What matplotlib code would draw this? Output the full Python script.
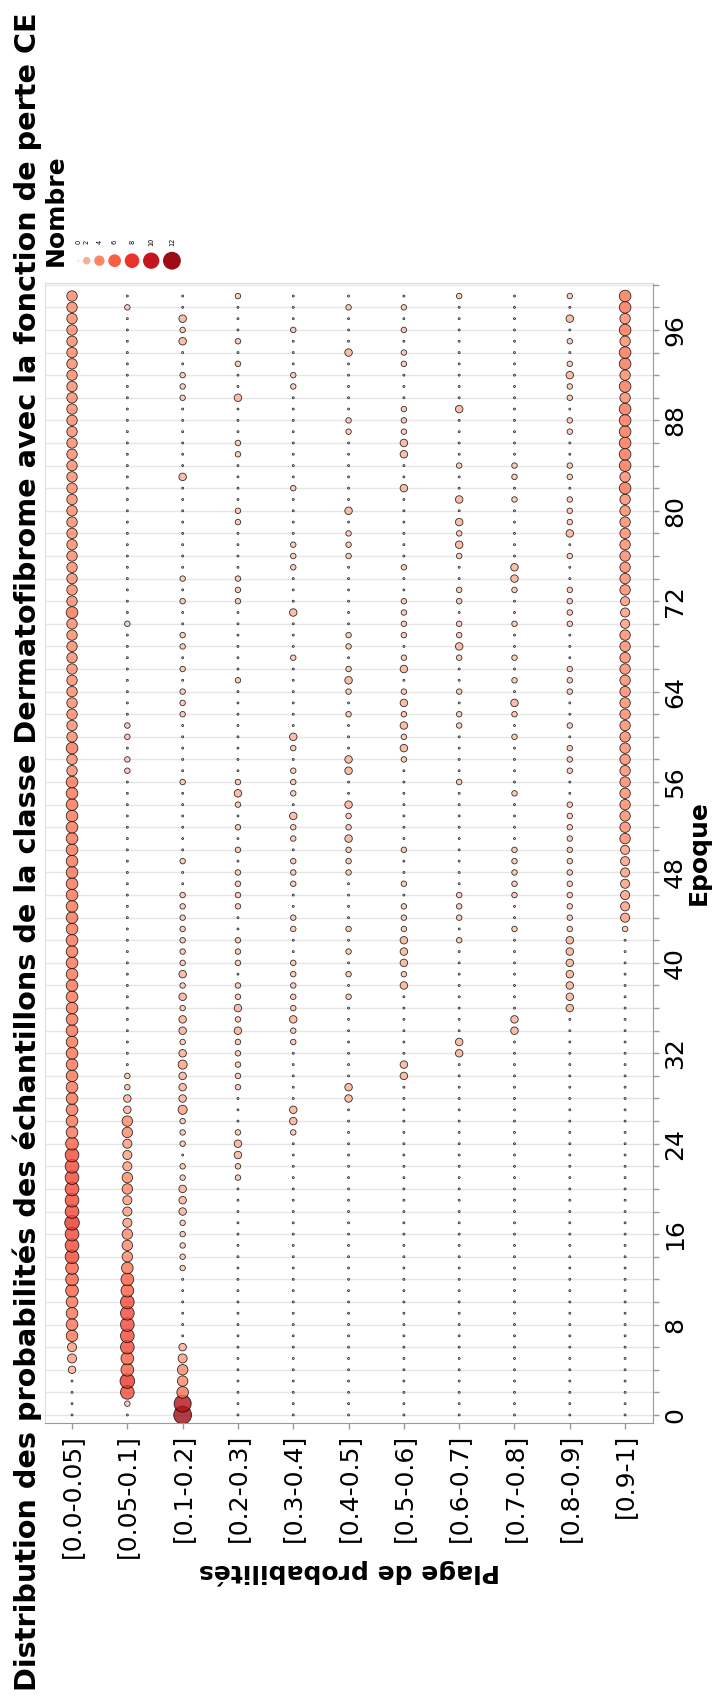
import numpy as np
import pandas as pd
import matplotlib
matplotlib.use("Agg")
import matplotlib.pyplot as plt
from matplotlib.colors import Normalize

# Plages de probabilites (ordre des colonnes)
categories = ["[0.0-0.05]", "[0.05-0.1]", "[0.1-0.2]", "[0.2-0.3]", "[0.3-0.4]",
              "[0.4-0.5]", "[0.5-0.6]", "[0.6-0.7]", "[0.7-0.8]", "[0.8-0.9]", "[0.9-1]"]
epochs = np.arange(100)

# Nombre d'echantillons par epoque (liste complete) ou {epoque: nombre} (zeros omis)
p_00_005 = [0, 0, 0, 0, 2, 3, 3, 5, 5, 5,
            5, 6, 6, 6, 7, 7, 7, 8, 7, 7,
            7, 7, 7, 7, 6, 5, 5, 5, 5, 5,
            5, 5, 5, 5, 5, 5, 5, 5, 5, 5,
            5, 5, 5, 5, 5, 5, 5, 5, 5, 5,
            5, 5, 5, 5, 5, 5, 5, 4, 4, 5,
            4, 4, 4, 4, 4, 4, 4, 4, 4, 4,
            4, 5, 4, 4, 4, 4, 4, 4, 4, 4,
            4, 4, 4, 4, 4, 4, 4, 4, 4, 4,
            4, 4, 4, 4, 4, 4, 4, 4, 4, 4]
p_005_01 = {1: 1, 2: 7, 3: 8, 4: 6, 5: 6, 6: 7, 7: 7, 8: 7, 9: 7, 10: 7, 11: 6, 12: 6,
            13: 5, 14: 4, 15: 4, 16: 4, 17: 3, 18: 3, 19: 3, 20: 4, 21: 4, 22: 3, 23: 3,
            24: 3, 25: 4, 26: 4, 27: 2, 28: 2, 29: 1, 30: 1, 57: 1, 58: 1, 60: 1, 61: 1,
            70: 1, 98: 1}
p_01_02 = {0: 12, 1: 11, 2: 5, 3: 4, 4: 4, 5: 3, 6: 2, 13: 1, 14: 1, 15: 1, 16: 1, 17: 1,
           18: 2, 19: 2, 20: 2, 21: 1, 22: 1, 24: 1, 25: 1, 26: 1, 27: 3, 28: 2, 29: 2,
           30: 2, 31: 3, 32: 2, 33: 1, 34: 2, 35: 2, 36: 1, 37: 2, 38: 1, 39: 2, 40: 1,
           41: 1, 42: 1, 43: 1, 44: 1, 45: 1, 46: 1, 49: 1, 56: 1, 62: 1, 63: 1, 64: 1,
           66: 1, 68: 1, 69: 1, 72: 1, 74: 1, 83: 2, 90: 1, 91: 1, 92: 1, 95: 2, 96: 1, 97: 2}
p_02_03 = {21: 1, 22: 1, 23: 2, 24: 2, 25: 1, 29: 1, 30: 1, 31: 1, 32: 1, 33: 1, 34: 2,
           35: 1, 36: 2, 37: 1, 38: 1, 40: 1, 41: 1, 42: 1, 45: 1, 46: 1, 47: 1, 48: 1,
           50: 1, 52: 1, 54: 1, 55: 2, 56: 1, 65: 1, 72: 1, 73: 1, 74: 1, 79: 1, 80: 1,
           85: 1, 86: 1, 90: 2, 93: 1, 95: 1, 99: 1}
p_03_04 = {25: 1, 26: 2, 27: 2, 33: 1, 34: 1, 35: 2, 36: 1, 37: 1, 38: 1, 39: 1, 40: 1,
           43: 1, 44: 1, 47: 1, 48: 1, 49: 1, 51: 1, 52: 1, 53: 2, 55: 1, 56: 1, 57: 1,
           59: 1, 60: 2, 67: 1, 71: 2, 75: 1, 76: 1, 77: 1, 82: 1, 91: 1, 92: 1, 96: 1}
p_04_05 = {28: 2, 29: 2, 37: 1, 39: 1, 41: 1, 43: 1, 48: 1, 49: 1, 50: 1, 51: 2, 52: 1,
           53: 1, 54: 2, 57: 2, 58: 2, 62: 1, 64: 1, 65: 2, 66: 1, 68: 1, 69: 1, 76: 1,
           77: 1, 78: 1, 80: 2, 87: 1, 88: 1, 94: 2, 98: 1}
p_05_06 = {30: 2, 31: 2, 38: 2, 39: 1, 40: 2, 41: 2, 42: 2, 43: 1, 44: 1, 45: 1, 47: 1,
           50: 1, 58: 1, 59: 2, 60: 1, 61: 2, 62: 1, 63: 2, 64: 1, 66: 2, 67: 1, 69: 1,
           70: 1, 71: 1, 72: 1, 75: 1, 82: 2, 85: 2, 86: 2, 87: 1, 88: 1, 89: 1, 93: 1,
           94: 1, 96: 1, 98: 1}
p_06_07 = {32: 2, 33: 2, 42: 1, 44: 1, 45: 1, 46: 1, 56: 1, 61: 1, 62: 1, 64: 1, 67: 1,
           68: 2, 69: 1, 70: 1, 72: 1, 73: 1, 76: 1, 77: 2, 78: 1, 79: 2, 81: 2, 84: 1,
           89: 2, 99: 1}
p_07_08 = {34: 2, 35: 2, 43: 1, 46: 1, 47: 1, 48: 1, 49: 1, 50: 1, 55: 1, 60: 1, 62: 1,
           63: 2, 65: 1, 67: 1, 70: 1, 73: 1, 74: 2, 75: 2, 81: 1, 83: 1, 84: 1}
p_08_09 = {36: 2, 37: 2, 38: 2, 39: 2, 40: 2, 41: 2, 42: 2, 43: 1, 44: 1, 45: 1, 46: 1,
           47: 1, 48: 1, 49: 1, 50: 1, 51: 1, 52: 1, 53: 1, 54: 1, 57: 1, 58: 1, 59: 1,
           61: 1, 64: 1, 65: 1, 66: 1, 70: 1, 71: 1, 72: 1, 73: 1, 76: 1, 78: 2, 79: 1,
           80: 1, 81: 1, 83: 1, 84: 1, 87: 1, 88: 1, 90: 1, 91: 1, 92: 2, 93: 1, 95: 1,
           97: 2, 99: 1}
p_09_1 = [0, 0, 0, 0, 0, 0, 0, 0, 0, 0,
          0, 0, 0, 0, 0, 0, 0, 0, 0, 0,
          0, 0, 0, 0, 0, 0, 0, 0, 0, 0,
          0, 0, 0, 0, 0, 0, 0, 0, 0, 0,
          0, 0, 0, 1, 3, 3, 3, 3, 3, 3,
          3, 4, 4, 4, 4, 4, 4, 4, 4, 4,
          4, 4, 4, 4, 4, 4, 4, 4, 4, 4,
          3, 3, 3, 4, 4, 4, 4, 4, 4, 4,
          4, 4, 5, 4, 5, 5, 5, 5, 5, 5,
          4, 5, 4, 5, 5, 4, 5, 4, 5, 5]

legend_levels = [0, 2, 4, 6, 8, 10, 12]

columns = [p_00_005, p_005_01, p_01_02, p_02_03, p_03_04, p_04_05,
           p_05_06, p_06_07, p_07_08, p_08_09, p_09_1]

rows = []
for ci, col in enumerate(columns):
    vals = [col.get(e, 0) for e in epochs] if isinstance(col, dict) else col
    for e, n in zip(epochs, vals):
        rows.append((e, ci, n))
df = pd.DataFrame(rows, columns=["Epoque", "Plage", "Nombre"])

# Echelles taille / couleur
s_min, s_max, n_max = 2, 165, 12
def size_of(n):
    return s_min + (s_max - s_min) * np.asarray(n) / n_max

cmap = plt.cm.Reds
norm = Normalize(vmin=-2.8, vmax=13.8)

fig = plt.figure(figsize=(7.14, 17.02), dpi=100)
ax = fig.add_axes([0.0637, 0.164, 0.8513, 0.6697])

ax.scatter(df["Plage"], df["Epoque"], s=size_of(df["Nombre"]), c=df["Nombre"],
           cmap=cmap, norm=norm, alpha=0.8, edgecolors="k", linewidths=0.6, zorder=3)

ax.set_xlim(-0.48, 10.51)
ax.set_ylim(-0.7, 100.15)
ax.set_xticks(range(len(categories)))
ax.set_xticklabels(categories, rotation=90, fontsize=18)

ax.yaxis.tick_right()
yt = list(range(0, 101, 2))
ax.set_yticks(yt)
ax.set_yticklabels([str(t) if t % 8 == 0 and t < 100 else "" for t in yt],
                   rotation=90, va="center", fontsize=18)
ax.tick_params(axis="both", length=4, color="#999999", width=1)
ax.tick_params(axis="y", pad=3)
ax.tick_params(axis="x", pad=4)

ax.grid(axis="y", color="#e6e6e6", lw=1)
ax.set_axisbelow(True)
for side in ["top", "left"]:
    ax.spines[side].set_color("#dddddd")
for side in ["right", "bottom"]:
    ax.spines[side].set_color("#999999")

ax.set_xlabel("Plage de probabilités", fontsize=18, fontweight="bold", rotation=180)
ax.xaxis.set_label_coords(0.5, -0.131)
ax.xaxis.label.set_va("center")
ax.yaxis.set_label_position("right")
ax.set_ylabel("Epoque", fontsize=18, fontweight="bold", rotation=90)
ax.yaxis.set_label_coords(1.075, 0.5)
ax.yaxis.label.set_va("center")

# Titre vertical, taille ajustee pour couvrir ~1685 px de haut
title = fig.text(0.038, 0.4994,
                 "Distribution des probabilités des échantillons de la classe Dermatofibrome "
                 "avec la fonction de perte CE",
                 rotation=90, fontsize=20, fontweight="bold", ha="center", va="center")
renderer = fig.canvas.get_renderer()
h = title.get_window_extent(renderer).height
title.set_fontsize(20 * 1685 / h)

# Legende (tournee) dans un repere en pixels
lax = fig.add_axes([0, 0, 1, 1])
lax.set_xlim(0, 714)
lax.set_ylim(1702, 0)
lax.axis("off")
diam = np.sqrt(size_of(legend_levels)) / 0.72
lx = [78.3]
for i in range(1, len(legend_levels)):
    lx.append(lx[-1] + (diam[i - 1] + diam[i]) / 2 + 3.7)
lax.scatter(lx, [260.7] * len(lx), s=size_of(legend_levels), c=legend_levels,
            cmap=cmap, norm=norm, linewidths=0)
for x, lev in zip(lx, legend_levels):
    lax.text(x, 241.7, str(lev), rotation=90, fontsize=4.8, ha="center", va="center")
lax.text(55.7, 210, "Nombre", rotation=90, fontsize=18, fontweight="bold",
         ha="center", va="center")

fig.savefig("out.png", dpi=100)
